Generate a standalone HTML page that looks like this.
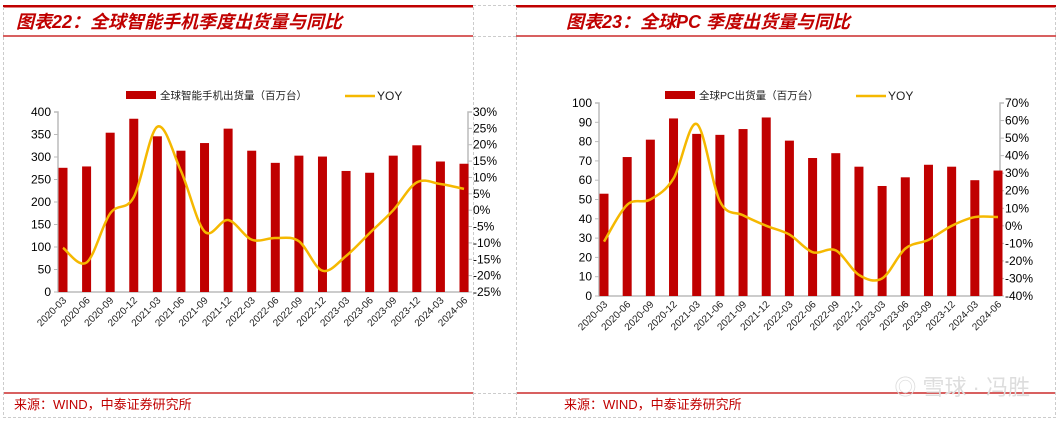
<!DOCTYPE html>
<html><head><meta charset="utf-8"><style>
body{margin:0;background:#fff;}
svg{display:block;font-family:"Liberation Sans","Noto Sans CJK SC",sans-serif;}
</style></head><body>
<svg id="s" width="1059" height="423" xmlns="http://www.w3.org/2000/svg">
<g>
<rect x="3" y="5" width="470" height="2.5" fill="#c00000"/>
<line x1="3" y1="36" x2="473" y2="36" stroke="#c00000" stroke-width="1.2"/>
<line x1="3" y1="393" x2="473" y2="393" stroke="#c00000" stroke-width="1.2"/>
<line x1="3.5" y1="7" x2="3.5" y2="417" stroke="#ccc" stroke-dasharray="3,2"/>
<line x1="473.5" y1="7" x2="473.5" y2="417" stroke="#ccc" stroke-dasharray="3,2"/>
<line x1="3" y1="417.5" x2="1056" y2="417.5" stroke="#ccc" stroke-dasharray="3,2"/>
<line x1="473" y1="36.5" x2="516" y2="36.5" stroke="#ccc" stroke-dasharray="3,2"/>
<line x1="473" y1="393.5" x2="516" y2="393.5" stroke="#ccc" stroke-dasharray="3,2"/>
<line x1="473" y1="5.5" x2="516" y2="5.5" stroke="#ccc" stroke-dasharray="3,2"/>
</g>
<text x="16" y="28" font-size="18" font-weight="bold" font-style="italic" fill="#c00000">图表22：全球智能手机季度出货量与同比</text>
<text x="14" y="409" font-size="13" fill="#c00000">来源：WIND，中泰证券研究所</text>
<g>
<rect x="516" y="5" width="540" height="2.5" fill="#c00000"/>
<line x1="516" y1="36" x2="1056" y2="36" stroke="#c00000" stroke-width="1.2"/>
<line x1="516" y1="393" x2="1056" y2="393" stroke="#c00000" stroke-width="1.2"/>
<line x1="516.5" y1="7" x2="516.5" y2="417" stroke="#ccc" stroke-dasharray="3,2"/>
<line x1="1055.5" y1="7" x2="1055.5" y2="417" stroke="#ccc" stroke-dasharray="3,2"/>
</g>
<text x="566" y="28" font-size="18" font-weight="bold" font-style="italic" fill="#c00000">图表23：全球PC 季度出货量与同比</text>
<text x="564" y="409" font-size="13" fill="#c00000">来源：WIND，中泰证券研究所</text>
<text x="1030" y="395" font-size="22" fill="#ddd" text-anchor="end">◎ 雪球 · 冯胜</text>
<g id="c1"></g>
<g id="c2"></g>
</svg>
<script>
const categories=["2020-03","2020-06","2020-09","2020-12","2021-03","2021-06","2021-09","2021-12","2022-03","2022-06","2022-09","2022-12","2023-03","2023-06","2023-09","2023-12","2024-03","2024-06"];
const phoneShipments=[276,279,354,385,346,314,331,363,314,287,303,301,269,265,303,326,290,285];
const phoneYoy=[-11.5,-16,-1,4,25.5,12,-6.5,-3,-9,-8.5,-9.5,-18.5,-14,-7,0,8.5,8,6.5];
const phoneLeftTicks=[0,50,100,150,200,250,300,350,400];
const phoneRightTicks=[-25,-20,-15,-10,-5,0,5,10,15,20,25,30];
const pcShipments=[53,72,81,92,84,83.5,86.5,92.5,80.5,71.5,74,67,57,61.5,68,67,60,65];
const pcYoy=[-9,12,15,27,58,14,6,0,-5,-15,-14,-28,-30,-13,-8,0,5,5];
const pcLeftTicks=[0,10,20,30,40,50,60,70,80,90,100];
const pcRightTicks=[-40,-30,-20,-10,0,10,20,30,40,50,60,70];
const NS="http://www.w3.org/2000/svg";
function mk(p,t,a){const e=document.createElementNS(NS,t);for(const k in a)e.setAttribute(k,a[k]);p.appendChild(e);return e;}
function draw(g,cfg){
  const {x0,x1,yTop,yBot,c0,c1,bars,yoy,lt,rt,legend,lx}=cfg;
  const lMin=lt[0],lMax=lt[lt.length-1],rMin=rt[0],rMax=rt[rt.length-1];
  const yL=v=>yBot-(v-lMin)/(lMax-lMin)*(yBot-yTop);
  const yR=v=>yBot-(v-rMin)/(rMax-rMin)*(yBot-yTop);
  const xC=i=>c0+i*(c1-c0)/(categories.length-1);
  let ax=mk(g,'path',{d:`M${x0-4} ${yTop}H${x0}V${yBot}H${x1}V${yTop}H${x1+4}`,fill:'none',stroke:'#bbb','stroke-width':1.5});
  
  lt.forEach(v=>{mk(g,'line',{x1:x0-4,x2:x0,y1:yL(v),y2:yL(v),stroke:'#bbb'});
    const t=mk(g,'text',{x:x0-7,y:yL(v)+4,'font-size':12,'text-anchor':'end',fill:'#000'});t.textContent=v;
    });
  rt.forEach(v=>{mk(g,'line',{x1:x1,x2:x1+4,y1:yR(v),y2:yR(v),stroke:'#bbb'});
    const t=mk(g,'text',{x:x1+5,y:yR(v)+4,'font-size':12,fill:'#000'});t.textContent=v+'%';
    });
  bars.forEach((v,i)=>{const r=mk(g,'rect',{x:xC(i)-4.5,y:yL(v),width:9,height:yBot-yL(v),fill:'#c00000'});
    });
  categories.forEach((c,i)=>{const t=mk(g,'text',{x:0,y:0,'font-size':10,'text-anchor':'end',fill:'#222',transform:`translate(${xC(i)+4},${yBot+9}) rotate(-45)`});t.textContent=c;
    });
  const P=yoy.map((v,i)=>[xC(i),yR(v)]);
  let d=`M${P[0][0]} ${P[0][1]}`;
  for(let i=0;i<P.length-1;i++){const p0=P[i-1]||P[i],p1=P[i],p2=P[i+1],p3=P[i+2]||p2;
    d+=`C${p1[0]+(p2[0]-p0[0])/6} ${p1[1]+(p2[1]-p0[1])/6} ${p2[0]-(p3[0]-p1[0])/6} ${p2[1]-(p3[1]-p1[1])/6} ${p2[0]} ${p2[1]}`;}
  const ln=mk(g,'path',{d,fill:'none',stroke:'#f5b800','stroke-width':2.5});
  
  const lg=mk(g,'g',{});
  mk(lg,'rect',{x:lx[0],y:91,width:30,height:8,fill:'#c00000'});
  const t1=mk(lg,'text',{x:lx[0]+34,y:99,'font-size':10.5,fill:'#222'});t1.textContent=legend;
  mk(lg,'line',{x1:lx[1],x2:lx[1]+30,y1:96,y2:96,stroke:'#f5b800','stroke-width':2.5});
  const t2=mk(lg,'text',{x:lx[1]+32,y:100,'font-size':12,fill:'#222'});t2.textContent='YOY';
}
draw(document.getElementById('c1'),{x0:58,x1:468,yTop:112,yBot:292,c0:63,c1:464,bars:phoneShipments,yoy:phoneYoy,lt:phoneLeftTicks,rt:phoneRightTicks,legend:'全球智能手机出货量（百万台）',lx:[126,345]});
draw(document.getElementById('c2'),{x0:599,x1:1000,yTop:103,yBot:296,c0:604,c1:998,bars:pcShipments,yoy:pcYoy,lt:pcLeftTicks,rt:pcRightTicks,legend:'全球PC出货量（百万台）',lx:[665,856]});
</script>
</body></html>
